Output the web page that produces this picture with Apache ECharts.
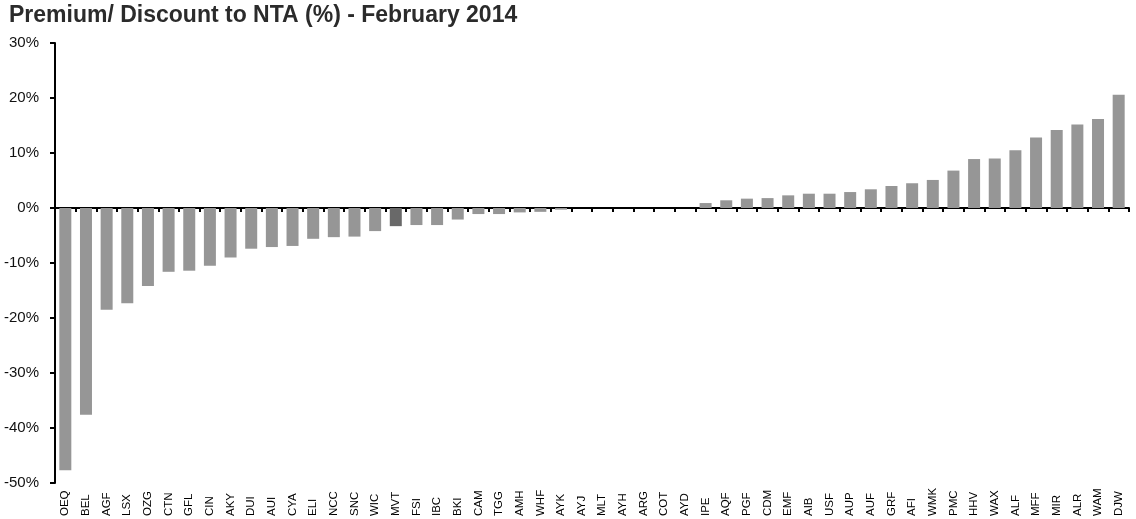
<!DOCTYPE html>
<html><head><meta charset="utf-8">
<script src="https://cdn.jsdelivr.net/npm/echarts@6/dist/echarts.min.js"></script>
<style>html,body{margin:0;padding:0;background:#fff}#c{width:1136px;height:519px}</style>
</head><body><div id="c"></div>
<script>
const titleText = 'Premium/ Discount to NTA (%) - February 2014';
const categories = ['OEQ','BEL','AGF','LSX','OZG','CTN','GFL','CIN','AKY','DUI','AUI','CYA','ELI','NCC','SNC','WIC','MVT','FSI','IBC','BKI','CAM','TGG','AMH','WHF','AYK','AYJ','MLT','AYH','ARG','COT','AYD','IPE','AQF','PGF','CDM','EMF','AIB','USF','AUP','AUF','GRF','AFI','WMK','PMC','HHV','WAX','ALF','MFF','MIR','ALR','WAM','DJW'];
const values = [-47.7,-37.6,-18.5,-17.3,-14.2,-11.6,-11.4,-10.5,-9.0,-7.4,-7.1,-6.9,-5.6,-5.3,-5.2,-4.2,-3.3,-3.1,-3.1,-2.1,-1.1,-1.1,-0.8,-0.7,-0.3,0,0,0,0,0,0,0.9,1.4,1.7,1.8,2.3,2.6,2.6,2.9,3.4,4.0,4.5,5.1,6.8,8.9,9.0,10.5,12.8,14.2,15.2,16.2,20.6];
const highlighted = ['MVT'];
const yMin = -50, yMax = 30, yStep = 10;

const FONT = '"Liberation Sans", Arial, Helvetica, sans-serif';
const chart = echarts.init(document.getElementById('c'), null, {renderer: 'canvas'});
chart.setOption({
  animation: false,
  backgroundColor: '#ffffff',
  title: {
    text: titleText, left: 9, top: 4, padding: 0,
    textStyle: {fontFamily: FONT, fontSize: 23, fontWeight: 'bold', color: '#2b2b2b'}
  },
  grid: {left: 55, right: 7, top: 43, bottom: 34, containLabel: false},
  xAxis: [
    {
      type: 'category', data: categories, position: 'bottom',
      axisLine: {show: false, onZero: false},
      axisTick: {show: false},
      splitLine: {show: false},
      axisLabel: {
        show: true, interval: 0, rotate: 90, align: 'left', margin: 33,
        fontFamily: FONT, fontSize: 11.5, color: '#000'
      }
    },
    {
      type: 'category', data: categories, position: 'bottom',
      axisLine: {show: true, onZero: true, onZeroAxisIndex: 0, lineStyle: {color: '#000', width: 2}},
      axisTick: {show: true, inside: false, length: 4, interval: 0, lineStyle: {color: '#000', width: 2}},
      axisLabel: {show: false},
      splitLine: {show: false}
    }
  ],
  yAxis: {
    type: 'value', min: yMin, max: yMax, interval: yStep,
    axisLine: {show: true, lineStyle: {color: '#000', width: 2}},
    axisTick: {show: true, inside: false, length: 5, lineStyle: {color: '#000', width: 2}},
    splitLine: {show: false},
    axisLabel: {formatter: '{value}%', margin: 16, fontFamily: FONT, fontSize: 15, color: '#111'}
  },
  series: [{
    type: 'bar', xAxisIndex: 0, barWidth: 12,
    itemStyle: {color: '#969696'},
    data: values.map((v, i) => highlighted.includes(categories[i])
      ? {value: v, itemStyle: {color: '#696969'}} : v)
  }]
});
</script></body></html>
